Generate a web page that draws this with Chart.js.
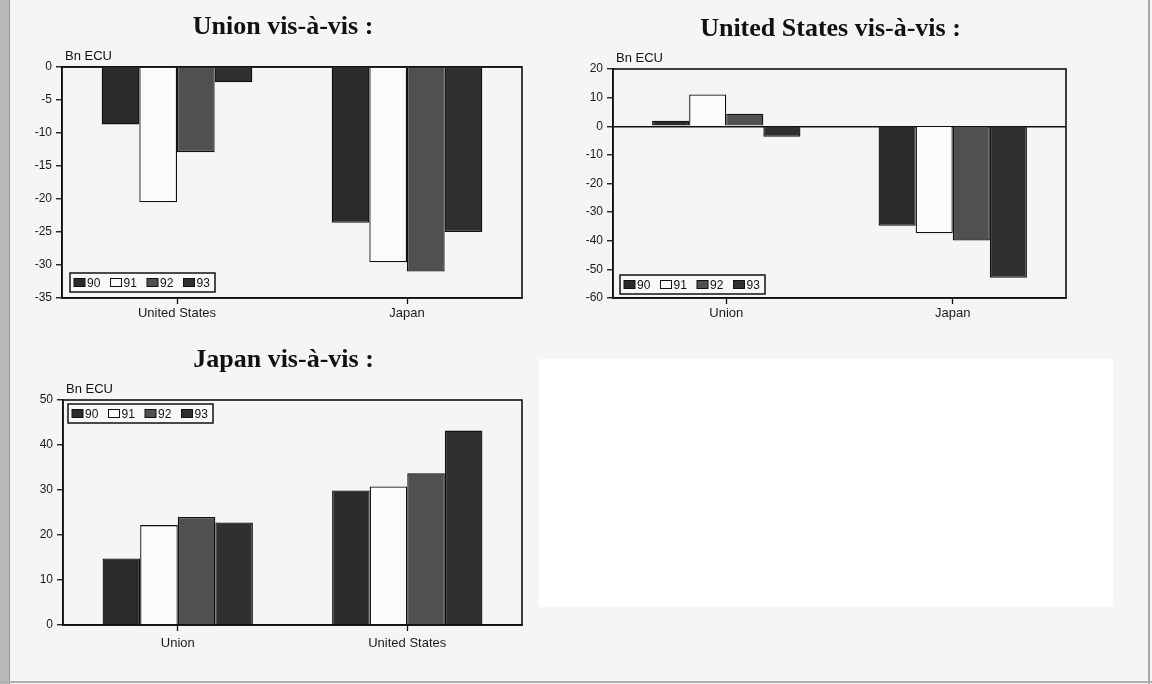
<!DOCTYPE html>
<html>
<head>
<meta charset="utf-8">
<script src="https://cdn.jsdelivr.net/npm/chart.js@4/dist/chart.umd.min.js"></script>
<style>
  html, body { margin:0; padding:0; }
  body { width:1152px; height:684px; overflow:hidden; background:#f5f5f5; position:relative; }
  #strip { position:absolute; left:0; top:0; width:9px; height:684px; background:#b9b9b9; border-right:1px solid #9a9a9a; }
  #rline { position:absolute; left:1148px; top:0; width:2px; height:684px; background:#a8a8a8; }
  #bline { position:absolute; left:0; top:681px; width:1152px; height:2px; background:#b0b0b0; }
  #white { position:absolute; left:539px; top:359px; width:574px; height:248px; background:#ffffff; }
  canvas { position:absolute; }
</style>
</head>
<body>
<div id="strip"></div><div id="rline"></div><div id="bline"></div><div id="white"></div>
<canvas id="c1" width="540" height="330" style="left:0;top:0"></canvas>
<canvas id="c2" width="540" height="330" style="left:560px;top:0"></canvas>
<canvas id="c3" width="540" height="344" style="left:0;top:340px"></canvas>
<script>
// ---- data ----
const years = ['90', '91', '92', '93'];
const unitLabel = 'Bn ECU';

const unionTitle = 'Union vis-à-vis :';
const unionCats = ['United States', 'Japan'];
const union90 = [-8.7, -23.6];
const union91 = [-20.5, -29.6];
const union92 = [-12.9, -31.0];
const union93 = [-2.3, -25.0];
const unionTicks = [0, -35, 5]; // max, min, step

const usTitle = 'United States vis-à-vis :';
const usCats = ['Union', 'Japan'];
const us90 = [1.9, -34.8];
const us91 = [11.1, -37.4];
const us92 = [4.4, -39.9];
const us93 = [-3.7, -52.9];
const usTicks = [20, -60, 10];

const japanTitle = 'Japan vis-à-vis :';
const japanCats = ['Union', 'United States'];
const jp90 = [14.8, 29.9];
const jp91 = [22.2, 30.8];
const jp92 = [24.0, 33.7];
const jp93 = [22.8, 43.2];
const japanTicks = [50, 0, 10];

// ---- style ----
const barColors = ['#2b2b2b', '#fbfbfb', '#505050', '#303030'];
const sans = '"Liberation Sans", Arial, sans-serif';

const panelPlugin = {
  id: 'panel',
  afterDatasetsDraw(chart, args, opts) {
    const ctx = chart.ctx, a = chart.chartArea;
    ctx.save();
    // frame
    ctx.strokeStyle = '#111';
    ctx.lineWidth = 1.6;
    ctx.strokeRect(a.left, a.top, a.right - a.left, a.bottom - a.top);
    // title
    ctx.fillStyle = '#111';
    ctx.font = 'bold 26px "Liberation Serif", "Times New Roman", serif';
    ctx.textAlign = 'center';
    ctx.textBaseline = 'alphabetic';
    ctx.fillText(opts.title, (a.left + a.right) / 2 - 9, a.top - 33);
    // unit label
    ctx.font = '13px ' + sans;
    ctx.textAlign = 'left';
    ctx.fillText(opts.unit, a.left + 3, a.top - 7);
    // legend
    const bx = a.left + opts.lx, bw = 145, bh = 19;
    const by = opts.lpos === 'bottom' ? a.bottom - opts.ly - bh : a.top + opts.ly;
    ctx.fillStyle = '#f8f8f8';
    ctx.fillRect(bx, by, bw, bh);
    ctx.lineWidth = 1.5;
    ctx.strokeStyle = '#111';
    ctx.strokeRect(bx, by, bw, bh);
    ctx.font = '12px ' + sans;
    chart.data.datasets.forEach((ds, i) => {
      const sx = bx + 4 + i * 36.5, sy = by + bh / 2 - 4;
      ctx.fillStyle = ds.backgroundColor;
      ctx.fillRect(sx, sy, 11, 8);
      ctx.lineWidth = 1;
      ctx.strokeRect(sx, sy, 11, 8);
      ctx.fillStyle = '#111';
      ctx.textBaseline = 'middle';
      ctx.fillText(ds.label, sx + 13, by + bh / 2 + 1);
    });
    ctx.restore();
  }
};

function makeChart(id, cats, series, ticks, title, yWidth, pad, legendPos, xPad) {
  const datasets = series.map((vals, i) => ({
    label: years[i],
    data: vals,
    backgroundColor: barColors[i],
    borderColor: '#111',
    borderWidth: 1.3,
    categoryPercentage: 0.655,
    barPercentage: 1.0
  }));
  return new Chart(document.getElementById(id), {
    type: 'bar',
    data: { labels: cats, datasets },
    options: {
      responsive: false,
      animation: false,
      layout: { padding: pad },
      plugins: {
        legend: { display: false },
        tooltip: { enabled: false },
        panel: { title, unit: unitLabel, lx: legendPos[0], ly: legendPos[1], lpos: legendPos[2] }
      },
      scales: {
        x: {
          offset: true,
          grid: { display: true, drawOnChartArea: false, offset: false, tickLength: 6, tickColor: '#111', tickWidth: 1.3 },
          border: { display: true, color: '#111', width: 1.5 },
          ticks: { color: '#1a1a1a', font: { family: sans, size: 13 }, padding: xPad, maxRotation: 0 },
          afterFit(s) { s.height = 30; }
        },
        y: {
          min: ticks[1], max: ticks[0],
          grid: {
            drawOnChartArea: true,
            color: c => (c.tick && c.tick.value === 0 ? '#111' : 'rgba(0,0,0,0)'),
            lineWidth: 1.5,
            tickLength: 6, tickColor: '#111', tickWidth: 1.3
          },
          border: { display: true, color: '#111', width: 1.5 },
          ticks: { stepSize: ticks[2], color: '#1a1a1a', font: { family: sans, size: 12 }, padding: 4 },
          afterFit(s) { s.width = yWidth; }
        }
      }
    },
    plugins: [panelPlugin]
  });
}

makeChart('c1', unionCats, [union90, union91, union92, union93], unionTicks, unionTitle,
  62, { left: 0, right: 18, top: 67, bottom: 2 }, [8, 6, 'bottom'], 2);
makeChart('c2', usCats, [us90, us91, us92, us93], usTicks, usTitle,
  53, { left: 0, right: 34, top: 69, bottom: 2 }, [7, 4, 'bottom'], 2);
makeChart('c3', japanCats, [jp90, jp91, jp92, jp93], japanTicks, japanTitle,
  63, { left: 0, right: 18, top: 60, bottom: 29 }, [5, 4, 'top'], 5);
</script>
</body>
</html>
